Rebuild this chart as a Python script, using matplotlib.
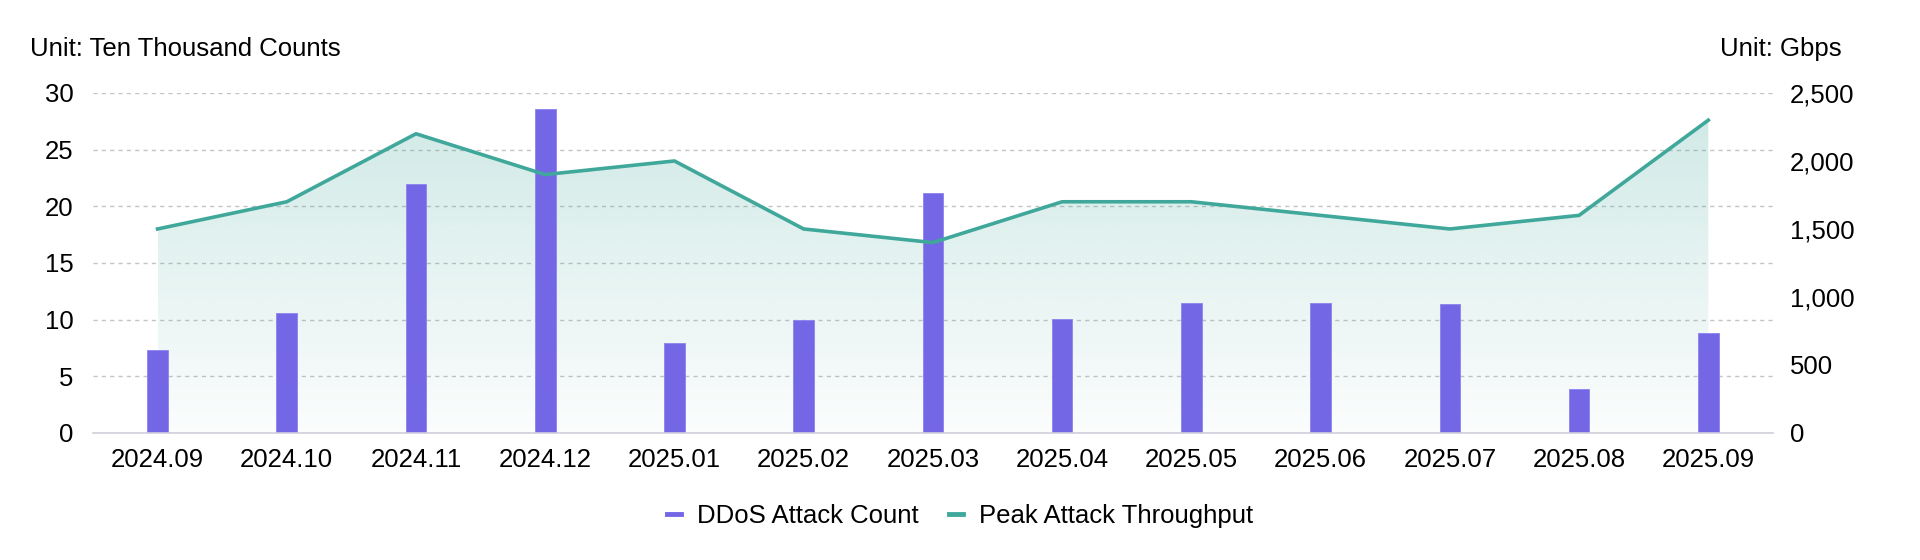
import numpy as np
import matplotlib.pyplot as plt
from matplotlib.colors import to_rgb
from matplotlib.lines import Line2D
from matplotlib.patches import Polygon

plt.rcParams['font.family'] = ['Liberation Sans', 'DejaVu Sans']

months = ['2024.09', '2024.10', '2024.11', '2024.12', '2025.01', '2025.02', '2025.03',
          '2025.04', '2025.05', '2025.06', '2025.07', '2025.08', '2025.09']
attack_count = [7.3, 10.6, 22.0, 28.6, 7.9, 10.0, 21.2, 10.1, 11.5, 11.5, 11.4, 3.9, 8.8]
peak_gbps = [1500, 1700, 2200, 1900, 2000, 1500, 1400, 1700, 1700, 1600, 1500, 1600, 2300]
left_ticks = [0, 5, 10, 15, 20, 25, 30]
right_ticks = [0, 500, 1000, 1500, 2000, 2500]

bar_color = '#7467e6'
line_color = '#40a89b'
fs = 18.5

fig = plt.figure(figsize=(19.2, 5.6), dpi=100)
ax = fig.add_axes([0.0484, 0.2268, 0.875, 0.6072])
ax2 = ax.twinx()

x = np.arange(len(months))

# gradient area under the throughput line, drawn in right-axis units
rgb = to_rgb(line_color)
grad = np.zeros((256, 1, 4))
grad[:, 0, 0], grad[:, 0, 1], grad[:, 0, 2] = rgb
grad[:, 0, 3] = np.linspace(0.02, 0.24, 256)
img = ax.imshow(grad, extent=[x[0], x[-1], 0, max(peak_gbps)], origin='lower', aspect='auto',
                transform=ax2.transData, zorder=1, interpolation='bilinear')
poly_pts = [(x[0], 0)] + list(zip(x, peak_gbps)) + [(x[-1], 0)]
clip = Polygon(poly_pts, closed=True, transform=ax2.transData, facecolor='none', edgecolor='none')
ax.add_patch(clip)
img.set_clip_path(clip)

ax.bar(x, attack_count, width=0.16, color=bar_color, edgecolor='#8c82ee', linewidth=0.6, zorder=2)
ax2.plot(x, peak_gbps, color=line_color, lw=2.6, zorder=3)

ax.set_xlim(-0.5, 12.5)
ax.set_ylim(0, 30)
ax2.set_ylim(0, 2500)

ax.set_yticks(left_ticks)
ax2.set_yticks(right_ticks)
ax2.set_yticklabels([f'{v:,}' for v in right_ticks])
ax.set_xticks(x)
ax.set_xticklabels(months)

ax.grid(axis='y', color='#c4c4c4', linestyle=(0, (3, 3)), linewidth=1)
ax.set_axisbelow(True)
ax.tick_params(axis='y', length=0, pad=14, labelsize=fs)
ax.tick_params(axis='x', length=0, pad=11, labelsize=fs)
ax2.tick_params(axis='y', length=0, pad=12, labelsize=fs)

for a in (ax, ax2):
    for s in ('top', 'left', 'right'):
        a.spines[s].set_visible(False)
    a.spines['bottom'].set_color('#cfcfdc')
    a.spines['bottom'].set_linewidth(1.2)
ax2.spines['bottom'].set_visible(False)

fig.text(30 / 1920, 1 - 49 / 560, 'Unit: Ten Thousand Counts', fontsize=fs, ha='left', va='center')
fig.text(1842 / 1920, 1 - 49 / 560, 'Unit: Gbps', fontsize=fs, ha='right', va='center')

handles = [Line2D([], [], color=bar_color, lw=3.5),
           Line2D([], [], color=line_color, lw=3.5)]
fig.legend(handles, ['DDoS Attack Count', 'Peak Attack Throughput'], loc='center',
           bbox_to_anchor=(0.5, 1 - 516 / 560), ncol=2, frameon=False, fontsize=fs,
           handlelength=0.55, handletextpad=0.6, columnspacing=1.2)

fig.savefig('out.png', dpi=100)
